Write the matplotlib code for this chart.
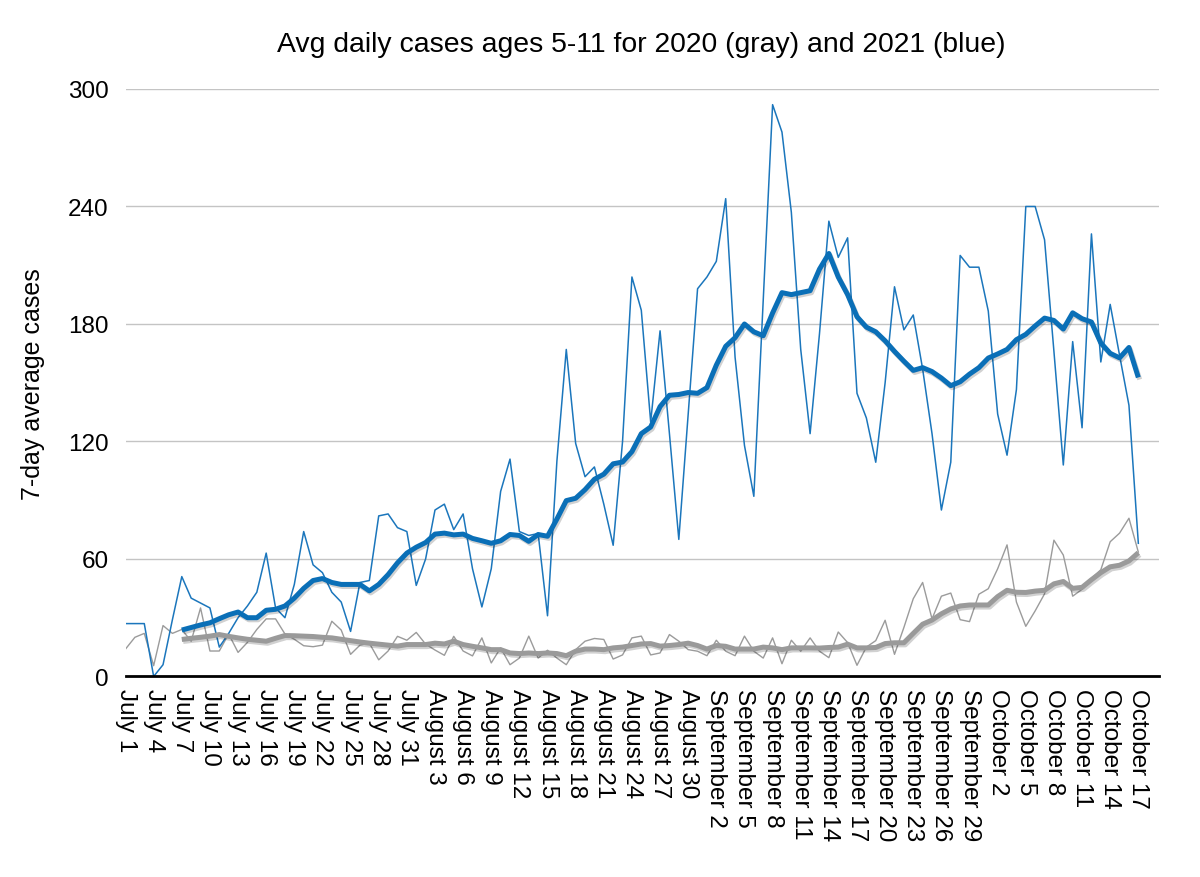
import matplotlib
matplotlib.use("Agg")
import matplotlib.pyplot as plt
import matplotlib.patheffects as pe
import numpy as np

plt.rcParams['font.family'] = ['Liberation Sans', 'DejaVu Sans']

title = "Avg daily cases ages 5-11 for 2020 (gray) and 2021 (blue)"
y_label = "7-day average cases"

tick_labels = ["July 1", "July 4", "July 7", "July 10", "July 13", "July 16", "July 19",
               "July 22", "July 25", "July 28", "July 31", "August 3", "August 6",
               "August 9", "August 12", "August 15", "August 18", "August 21",
               "August 24", "August 27", "August 30", "September 2", "September 5",
               "September 8", "September 11", "September 14", "September 17",
               "September 20", "September 23", "September 26", "September 29",
               "October 2", "October 5", "October 8", "October 11", "October 14",
               "October 17"]

# 2021 daily cases (July 1 .. October 17)
blue_daily = [27, 27, 27, 0, 6, 29, 51, 40, 37.5, 35,
              15, 22, 30, 36, 43, 63, 35, 30, 47, 74,
              57, 53, 43, 38, 23, 48, 49, 82, 83, 76,
              74, 46.5, 60, 85, 88, 75, 83, 55, 35.5, 55,
              94.5, 111, 74, 72, 73, 31, 110, 167, 119, 102,
              107, 88, 67, 120, 204, 187, 130, 176.5, 124, 70,
              134, 198, 204, 212, 244, 163, 118, 92, 192, 292,
              278, 237, 167, 124, 175, 232.5, 214, 224, 144.6, 132,
              109.4, 150, 199, 177, 184.6, 157, 124, 85, 109.4, 215,
              209, 209, 186.6, 134, 113, 146.5, 240, 240, 223, 166,
              108, 171, 127, 226, 160.6, 190, 164, 138.5, 68]

# 2021 seven-day average (starts July 7)
blue_avg = [np.nan] * 6 + [
    23.7, 25, 26.3, 27.4, 29.5, 31.5, 32.9, 30, 30, 33.8,
    34.3, 36, 40, 45, 49, 50, 48, 47, 47, 47,
    43.7, 47, 52, 58, 63, 66, 68.4, 72.7, 73.2, 72.3,
    72.7, 70.5, 69.3, 68, 69.3, 72.5, 72, 69, 72.5, 71.6,
    80.4, 89.8, 91, 95.4, 100.7, 103.3, 108.6, 109.5, 114.8, 124,
    127.4, 137.8, 143.6, 144, 145, 144.6, 147.5, 159, 168.6, 173,
    180, 176, 174, 185.6, 196, 195, 196, 197, 208, 216,
    204, 195, 183.7, 178.4, 176, 171.4, 166, 161, 156.3, 157.7,
    155.7, 152.4, 148.5, 150.5, 154.4, 157.7, 162.6, 164.7, 167, 172,
    174.7, 179, 183, 181.8, 177.4, 185.7, 182.7, 181, 170.3, 165,
    162.7, 168, 152.7]

# 2020 daily cases
gray_daily = [14, 20, 22, 5.5, 26, 22, 24, 18, 35, 13,
              13, 21.7, 12.3, 17.4, 24, 29.4, 29.4, 21.7, 19, 15.7,
              15.2, 16, 28.2, 23.7, 11.3, 16, 17, 8.5, 13, 20.5,
              18.5, 22.5, 16.5, 13.5, 10.8, 20.5, 13, 10.5, 19.7, 6.9,
              14.6, 6, 9.4, 20.6, 9.4, 13.4, 9.4, 6, 13.7, 18,
              19.4, 18.9, 8.9, 11, 19.7, 20.6, 11, 12, 21.4, 18,
              13.7, 12.9, 10.6, 18.5, 12.9, 10.6, 20.6, 12.9, 9.4, 19.7,
              6.5, 18.5, 12.9, 19.7, 12.9, 9.6, 22.7, 17.3, 5.7, 15,
              18.3, 28.7, 11.3, 25, 39.7, 48, 29.4, 41, 42.6, 29,
              28, 42, 44.8, 55, 67.2, 38, 25.6, 33.5, 42.2, 69.6,
              62, 41, 44.5, 50, 54.5, 68.8, 73.2, 80.8, 63.5]

# 2020 seven-day average
gray_avg = [np.nan] * 6 + [
    18.9, 19.5, 20, 20.6, 21.4, 20.5, 19.7, 19, 18.5, 18,
    19.5, 20.9, 20.8, 20.6, 20.4, 20, 19.7, 19, 18.3, 17.6,
    17, 16.5, 16, 15.5, 16.3, 16.3, 16.3, 17, 16.6, 18,
    16.3, 15.4, 14.6, 13.7, 13.7, 12, 11.7, 12, 11.7, 12,
    11.7, 10.6, 12.9, 14, 14, 13.7, 14.6, 15, 15.8, 16.6,
    16.8, 15.5, 15.8, 16.3, 17, 15.8, 14, 15.8, 15.4, 14,
    14, 14, 15, 14.6, 13.7, 14.6, 14.6, 14.6, 14.5, 14.8,
    15, 16.5, 14.6, 14.6, 14.8, 16.8, 17.2, 17.2, 22, 26.7,
    28.8, 32, 34.5, 36, 36.5, 36.5, 36.5, 40.8, 44, 43,
    42.9, 43.6, 44, 47.3, 48.5, 45, 45.5, 49.4, 53, 56,
    56.8, 59, 63.2]

y_ticks = [0, 60, 120, 180, 240, 300]

fig = plt.figure(figsize=(12, 8.78), dpi=100)
ax = fig.add_axes([0.1046, 0.2284, 0.8612, 0.6691])

x = np.arange(len(blue_daily))

shadow = [pe.SimpleLineShadow(offset=(1.0, -1.5), shadow_color='black', alpha=0.18), pe.Normal()]

ax.plot(x, gray_daily, color='#9b9b9b', lw=1.0, zorder=3)
ax.plot(x, blue_daily, color='#1b76bc', lw=1.1, zorder=4)
ax.plot(x, gray_avg, color='#9a9a9a', lw=3.6, zorder=5, solid_capstyle='butt',
        solid_joinstyle='round', path_effects=shadow)
ax.plot(x, blue_avg, color='#0a6fb7', lw=3.6, zorder=6, solid_capstyle='butt',
        solid_joinstyle='round', path_effects=shadow)

ax.set_xlim(0, 110.2)
ax.set_ylim(0, 300)
ax.set_yticks(y_ticks)
ax.set_yticklabels([str(v) for v in y_ticks], fontsize=17.5)
tick_pos = np.arange(0, len(blue_daily), 3)
ax.set_xticks(tick_pos)
ax.set_xticklabels(tick_labels, rotation=270, fontsize=17.5, va='top', ha='center')
ax.tick_params(axis='both', length=0)
ax.tick_params(axis='y', pad=12)
ax.tick_params(axis='x', pad=8)

ax.grid(axis='y', color='#c4c4c4', lw=1.0)
ax.set_axisbelow(True)
for s in ['left', 'right', 'top']:
    ax.spines[s].set_visible(False)
ax.spines['bottom'].set_color('black')
ax.spines['bottom'].set_linewidth(2.0)
ax.spines['bottom'].set_zorder(7)

ax.set_ylabel(y_label, fontsize=18)
ax.yaxis.set_label_coords(-0.078, 0.5)
fig.text(0.5346, 0.9487, title, fontsize=20.4, ha='center', va='center')

fig.savefig("out.png", dpi=100)
